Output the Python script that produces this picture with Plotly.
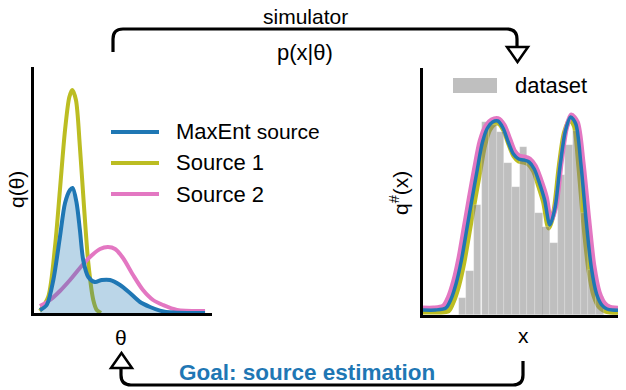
import plotly.graph_objects as go

W, H = 626, 390
OFF = 8  # the page body keeps its default 8px margin
FONT = "Liberation Sans, Arial, Helvetica, sans-serif"
BLUE, OLIVE, PINK = "#1f77b4", "#bcbd22", "#e377c2"

# left panel: source distributions q(theta)
theta_s1 = [0, 0.5, 0.91, 1.21, 1.52, 1.78, 1.96, 2.18, 2.42, 2.67, 2.93, 3.23, 3.44, 3.7]
q_s1 = [0.01, 0.08, 0.33, 0.615, 0.915, 1.08, 1.115, 1.065, 0.83, 0.53, 0.25, 0.065, 0.015, 0.0]

theta_s2 = [0, 0.61, 1.21, 1.82, 2.42, 3.03, 3.64, 4.12, 4.55, 5.03, 5.64, 6.24, 6.85, 7.45, 8.3, 10]
q_s2 = [0.035, 0.065, 0.11, 0.165, 0.225, 0.28, 0.32, 0.33, 0.32, 0.275, 0.19, 0.115, 0.065, 0.04, 0.015, 0.01]

theta_me = [0, 0.41, 0.81, 1.21, 1.52, 1.82, 1.98, 2.22, 2.42, 2.62, 2.93, 3.33, 3.74, 4.24,
            4.85, 5.45, 6.06, 6.67, 7.27, 8.06, 10]
q_me = [0.015, 0.04, 0.165, 0.38, 0.55, 0.615, 0.625, 0.55, 0.415, 0.265, 0.18, 0.155, 0.165, 0.165,
        0.14, 0.10, 0.055, 0.03, 0.012, 0.002, 0.0]

# right panel: pushforward q#(x) and dataset histogram
x_me = [-0.1, 0.5, 1.0, 1.25, 1.5, 1.75, 2.0, 2.25, 2.5, 2.75, 3.0, 3.25, 3.5, 3.75, 4.0, 4.25, 4.5, 4.75,
        5.0, 5.25, 5.5, 5.75, 6.0, 6.25, 6.5, 6.75, 7.0, 7.25, 7.5, 7.75, 8.0, 8.25, 8.5, 8.75, 9.0, 10.0]
qx_me = [0.025, 0.025, 0.035, 0.08, 0.16, 0.275, 0.425, 0.575, 0.72, 0.86, 0.935, 0.965, 0.97, 0.935, 0.865,
         0.805, 0.78, 0.775, 0.765, 0.73, 0.66, 0.575, 0.45, 0.535, 0.75, 0.92, 0.99, 0.955, 0.75, 0.47,
         0.235, 0.105, 0.05, 0.03, 0.025, 0.025]

x_s2 = [-0.1, 0.4, 0.88, 1.13, 1.38, 1.63, 1.88, 2.13, 2.38, 2.65, 2.92, 3.2, 3.5, 3.8, 4.07, 4.3, 4.52, 4.77,
        5.03, 5.3, 5.57, 5.83, 6.05, 6.3, 6.55, 6.8, 7.03, 7.32, 7.6, 7.87, 8.12, 8.37, 8.62, 8.87, 9.12, 10.0]
qx_s2 = [0.035, 0.035, 0.045, 0.09, 0.17, 0.285, 0.435, 0.585, 0.73, 0.87, 0.945, 0.975, 0.982, 0.95, 0.88,
         0.82, 0.795, 0.79, 0.78, 0.745, 0.675, 0.59, 0.47, 0.55, 0.765, 0.935, 1.0, 0.965, 0.76, 0.48,
         0.245, 0.115, 0.06, 0.04, 0.035, 0.035]

x_s1 = [-0.1, 0.6, 1.12, 1.37, 1.62, 1.87, 2.12, 2.37, 2.62, 2.87, 3.1, 3.33, 3.55, 3.78, 4.03, 4.27, 4.5, 4.75,
        4.97, 5.22, 5.45, 5.7, 5.95, 6.2, 6.45, 6.7, 6.97, 7.18, 7.4, 7.63, 7.88, 8.13, 8.38, 8.65, 8.9, 10.0]
qx_s1 = [0.015, 0.015, 0.02, 0.07, 0.15, 0.265, 0.415, 0.565, 0.71, 0.85, 0.925, 0.955, 0.958, 0.925, 0.855,
         0.795, 0.77, 0.765, 0.755, 0.72, 0.65, 0.565, 0.435, 0.52, 0.74, 0.91, 0.978, 0.945, 0.74, 0.46,
         0.225, 0.095, 0.04, 0.02, 0.015, 0.015]

bin_centers = [1.80, 2.17, 2.53, 2.90, 3.27, 3.63, 4.00, 4.37, 4.73, 5.10, 5.47, 5.83, 6.20, 6.57, 6.93,
               7.30, 7.67, 8.03, 8.40]
bin_heights = [0.085, 0.22, 0.55, 0.965, 0.95, 0.915, 0.76, 0.64, 0.84, 0.76, 0.51, 0.44, 0.36, 0.70, 0.85,
               0.92, 0.51, 0.225, 0.09]
bin_width = 0.367

legend_names = ["MaxEnt <span style='font-size:21px'>source</span>", "Source 1", "Source 2"]
legend_colors = [BLUE, OLIVE, PINK]


def fx(p):
    return (p - OFF) / W


def fy(p):
    return 1 - (p - OFF) / H


fig = go.Figure()
spl = dict(shape="spline", smoothing=0.8)

# left panel
fig.add_trace(go.Scatter(x=theta_s1, y=q_s1, mode="lines", line=dict(color=OLIVE, width=4, **spl),
                         xaxis="x", yaxis="y"))
fig.add_trace(go.Scatter(x=theta_s2, y=q_s2, mode="lines", line=dict(color=PINK, width=4, **spl),
                         xaxis="x", yaxis="y"))
fig.add_trace(go.Scatter(x=theta_me, y=q_me, mode="lines", fill="tozeroy",
                         fillcolor="rgba(31,119,180,0.3)", line=dict(color=BLUE, width=4, **spl),
                         xaxis="x", yaxis="y"))

# right panel: yellow below the bars, the rest on an overlay
fig.add_trace(go.Scatter(x=x_s1, y=qx_s1, mode="lines", line=dict(color=OLIVE, width=5, **spl),
                         xaxis="x2", yaxis="y2"))
fig.add_trace(go.Bar(x=bin_centers, y=bin_heights, width=bin_width,
                     marker=dict(color="rgba(128,128,128,0.5)",
                                 line=dict(color="rgba(255,255,255,0.35)", width=0.6)),
                     xaxis="x3", yaxis="y3"))
fig.add_trace(go.Scatter(x=x_s2, y=qx_s2, mode="lines", line=dict(color=PINK, width=5, **spl),
                         xaxis="x3", yaxis="y3"))
fig.add_trace(go.Scatter(x=x_me, y=qx_me, mode="lines", line=dict(color=BLUE, width=3.5, **spl),
                         xaxis="x3", yaxis="y3"))

ax = dict(showline=True, linecolor="black", linewidth=3, showticklabels=False, ticks="",
          showgrid=False, zeroline=False, fixedrange=True)
left_x, left_y = [-0.36, 10.42], [0, 1.23]
right_x, right_y = [-0.1, 10.05], [0, 1.235]

fig.update_layout(
    width=W, height=H, margin=dict(l=0, r=0, t=0, b=0, pad=0),
    paper_bgcolor="white", plot_bgcolor="rgba(0,0,0,0)", showlegend=False,
    font=dict(family=FONT, size=21, color="black"),
    xaxis=dict(domain=[fx(34), fx(212)], range=left_x, anchor="y", **ax),
    yaxis=dict(domain=[fy(313), fy(67)], range=left_y, anchor="x", **ax),
    xaxis2=dict(domain=[fx(423), 1.0], range=right_x, anchor="y2", **ax),
    yaxis2=dict(domain=[fy(315), fy(68)], range=right_y, anchor="x2", **ax),
    xaxis3=dict(overlaying="x2", range=right_x, anchor="y3", visible=False, fixedrange=True),
    yaxis3=dict(overlaying="y2", range=right_y, anchor="x3", visible=False, fixedrange=True),
    bargap=0,
)

shapes = []
annotations = []


def label(text, x, y, xanchor="center", size=21, color="black", angle=0, bold=False):
    annotations.append(dict(text=f"<b>{text}</b>" if bold else text, x=fx(x), y=fy(y),
                            xref="paper", yref="paper", xanchor=xanchor, yanchor="middle",
                            showarrow=False, textangle=angle, borderpad=0,
                            font=dict(family=FONT, size=size, color=color)))


# left legend
for i, (name, col) in enumerate(zip(legend_names, legend_colors)):
    yy = 132 + 31 * i
    shapes.append(dict(type="line", xref="paper", yref="paper", x0=fx(111), x1=fx(159), y0=fy(yy), y1=fy(yy),
                       line=dict(color=col, width=4)))
    label(name, 175, yy, xanchor="left", size=22)

# right legend
shapes.append(dict(type="rect", xref="paper", yref="paper", x0=fx(453), x1=fx(497), y0=fy(93), y1=fy(78),
                   fillcolor="#bfbfbf", line=dict(width=0)))
label("dataset", 514, 86, xanchor="left", size=22)

# axis labels, centred on their axes
label("q(θ)", 16, 190, angle=-90)
label("q<sup>#</sup>(x)", 399, 193, angle=-90)
label("θ", 121, 337)
label("x", 523, 335)

# top arrow: simulator
r = 10
top_path = (f"M {fx(113)},{fy(52)} L {fx(113)},{fy(29 + r)} Q {fx(113)},{fy(29)} {fx(113 + r)},{fy(29)} "
            f"L {fx(517 - r)},{fy(29)} Q {fx(517)},{fy(29)} {fx(517)},{fy(29 + r)} L {fx(517)},{fy(48)}")
shapes.append(dict(type="path", xref="paper", yref="paper", path=top_path, line=dict(color="black", width=3.2)))
shapes.append(dict(type="path", xref="paper", yref="paper",
                   path=f"M {fx(507)},{fy(47)} L {fx(528)},{fy(47)} L {fx(517.5)},{fy(62)} Z",
                   fillcolor="white", line=dict(color="black", width=2.5)))
label("simulator", 305, 16)
label("p(x|θ)", 305, 52, size=22)

# bottom arrow: goal
bot_path = (f"M {fx(523)},{fy(361)} L {fx(523)},{fy(385 - r)} Q {fx(523)},{fy(385)} {fx(523 - r)},{fy(385)} "
            f"L {fx(121 + r)},{fy(385)} Q {fx(121)},{fy(385)} {fx(121)},{fy(385 - r)} L {fx(121)},{fy(368)}")
shapes.append(dict(type="path", xref="paper", yref="paper", path=bot_path, line=dict(color="black", width=3.2)))
shapes.append(dict(type="path", xref="paper", yref="paper",
                   path=f"M {fx(111)},{fy(368)} L {fx(132)},{fy(368)} L {fx(121.5)},{fy(353)} Z",
                   fillcolor="white", line=dict(color="black", width=2.5)))
label("Goal: source estimation", 307, 372, size=22.5, color=BLUE, bold=True)

fig.update_layout(shapes=shapes, annotations=annotations)
fig.write_html("out.html")
